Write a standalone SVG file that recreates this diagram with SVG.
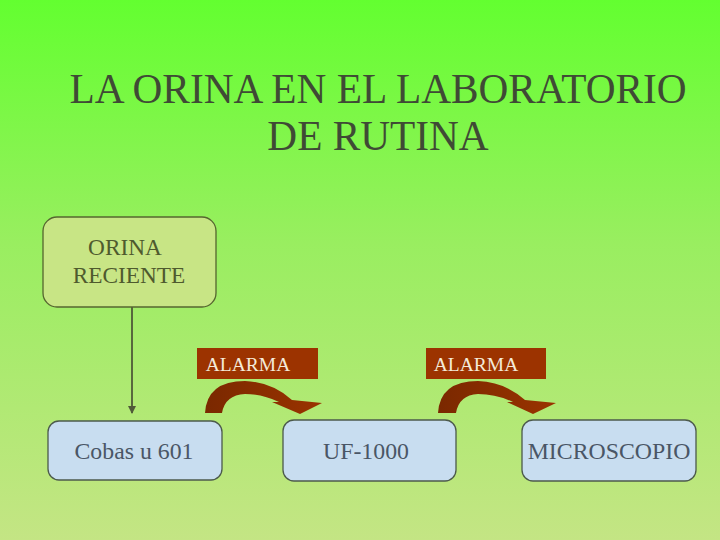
<svg xmlns="http://www.w3.org/2000/svg" width="720" height="540" viewBox="0 0 720 540">
<defs>
<linearGradient id="bg" x1="0" y1="0" x2="0" y2="1">
<stop offset="0" stop-color="#63FF30"/>
<stop offset="0.45" stop-color="#99EE60"/>
<stop offset="1" stop-color="#C4E584"/>
</linearGradient>
<linearGradient id="arr" x1="0" y1="0" x2="1" y2="0">
<stop offset="0" stop-color="#7A2800"/>
<stop offset="1" stop-color="#9A3300"/>
</linearGradient>
</defs>
<style>
.title{font-family:"Liberation Serif","Times New Roman",serif;font-size:41.3px;fill:#3F4A35;text-anchor:middle}
.green rect{fill:#C8E585;stroke:#55652F;stroke-width:1.3}
.green text{font-family:"Liberation Serif",serif;font-size:23.3px;fill:#4F5A2E;text-anchor:middle}
.blue rect{fill:#C8DDF0;stroke:#4C5A4C;stroke-width:1.3}
.blue text{font-family:"Liberation Serif",serif;font-size:23.8px;fill:#4A5666;text-anchor:middle}
.alarm rect{fill:#9C3300}
.alarm text{font-family:"Liberation Serif",serif;font-size:19.5px;fill:#F4EAD8;text-anchor:middle}
.curve{fill:url(#arr)}
</style>
<rect width="720" height="540" fill="url(#bg)"/>
<text class="title" x="378" y="103">LA ORINA EN EL LABORATORIO</text>
<text class="title" x="378" y="150">DE RUTINA</text>
<g id="connectors">
<line x1="132" y1="307" x2="132" y2="413" stroke="#4F5A38" stroke-width="1.8"/>
<path d="M128,406 L136,406 L132,414 Z" fill="#4F5A38"/>
</g>
<g id="orina" class="green">
<rect x="43" y="217" width="173" height="90" rx="14"/>
<text x="125" y="255">ORINA</text>
<text x="129" y="283">RECIENTE</text>
</g>
<g id="cobas" class="blue">
<rect x="48" y="421" width="174" height="59" rx="11"/>
<text x="134" y="459">Cobas u 601</text>
</g>
<g id="uf1000" class="blue">
<rect x="283" y="420" width="173" height="61" rx="11"/>
<text x="366" y="459">UF-1000</text>
</g>
<g id="microscopio" class="blue">
<rect x="522" y="420" width="174" height="61" rx="11"/>
<text x="609" y="459">MICROSCOPIO</text>
</g>
<g id="alarma1" class="alarm">
<path class="curve" d="M205,413 Q207,381 245,381 Q272,382 292,400 L322,403 L300,414 L272,402 L279,402 Q262,394 245,394 Q225,395 222,413 Z"/>
<rect x="197" y="348" width="121" height="31"/>
<text x="248" y="371">ALARMA</text>
</g>
<g id="alarma2" class="alarm">
<path class="curve" d="M438,413 Q440,381 478,381 Q505,382 525,400 L556,403 L533,414 L507,402 L513,402 Q496,394 478,394 Q459,395 456,413 Z"/>
<rect x="426" y="348" width="120" height="31"/>
<text x="476" y="371">ALARMA</text>
</g>
</svg>
